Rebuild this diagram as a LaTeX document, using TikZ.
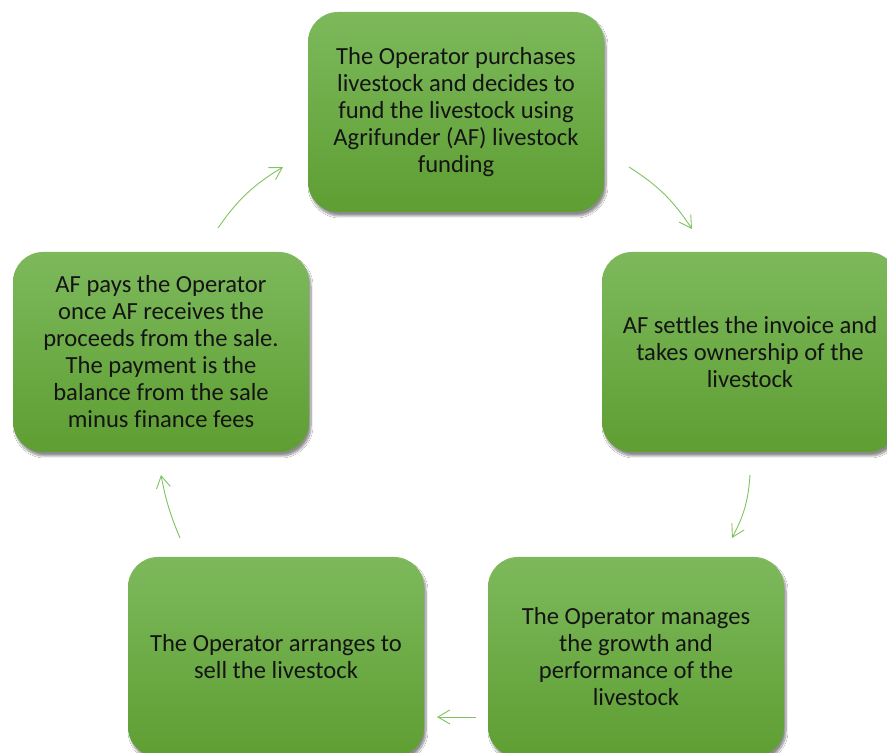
\documentclass[tikz,border=0pt]{standalone}
\usepackage{fontspec}
\setmainfont{Carlito}[Ligatures=NoCommon]
\usetikzlibrary{arrows.meta,shadows.blur}
\definecolor{boxtop}{RGB}{125,185,92}
\definecolor{boxbot}{RGB}{94,158,50}
\definecolor{arrowgreen}{RGB}{128,196,96}
\tikzset{
  stepbox/.style={rectangle, rounded corners=30pt, minimum width=296pt, minimum height=200pt,
    top color=boxtop, bottom color=boxbot, draw=none, align=center,
    font=\fontsize{24.6pt}{27pt}\selectfont, text=black!92,
    blur shadow={shadow xshift=2pt, shadow yshift=-4pt, shadow blur steps=10, shadow opacity=45}},
  flow/.style={draw=arrowgreen, line width=0.9pt, -{Straight Barb[length=12pt,width=14pt,line width=0.9pt]}}
}
\begin{document}
\begin{tikzpicture}[x=1pt,y=1pt]
\useasboundingbox (0,0) rectangle (887,753);
\fill[white] (0,0) rectangle (887,753);
\node[stepbox] (top) at (456,641) {The Operator purchases\\livestock and decides to\\fund the livestock using\\Agrifunder (AF) livestock\\funding};
\node[stepbox] (right) at (750,401) {AF settles the invoice and\\takes ownership of the\\livestock};
\node[stepbox] (bright) at (636,96) {The Operator manages\\the growth and\\performance of the\\livestock};
\node[stepbox] (bleft) at (276,96) {The Operator arranges to\\sell the livestock};
\node[stepbox] (left) at (161,401) {AF pays the Operator\\once AF receives the\\proceeds from the sale.\\The payment is the\\balance from the sale\\minus finance fees};
\coordinate (a1s) at (218,525); \coordinate (a1e) at (283,586);
\coordinate (a2s) at (629,586); \coordinate (a2e) at (692,524);
\coordinate (a3s) at (750,278); \coordinate (a3e) at (732,215);
\coordinate (a4s) at (476,36);  \coordinate (a4e) at (437,36);
\coordinate (a5s) at (180,215); \coordinate (a5e) at (161,278);
\draw[flow] (a1s) to[bend left=12] (a1e);
\draw[flow] (a2s) to[bend left=12] (a2e);
\draw[flow] (a3s) to[bend left=12] (a3e);
\draw[flow] (a4s) -- (a4e);
\draw[flow] (a5s) to[bend left=6] (a5e);
\end{tikzpicture}
\end{document}
